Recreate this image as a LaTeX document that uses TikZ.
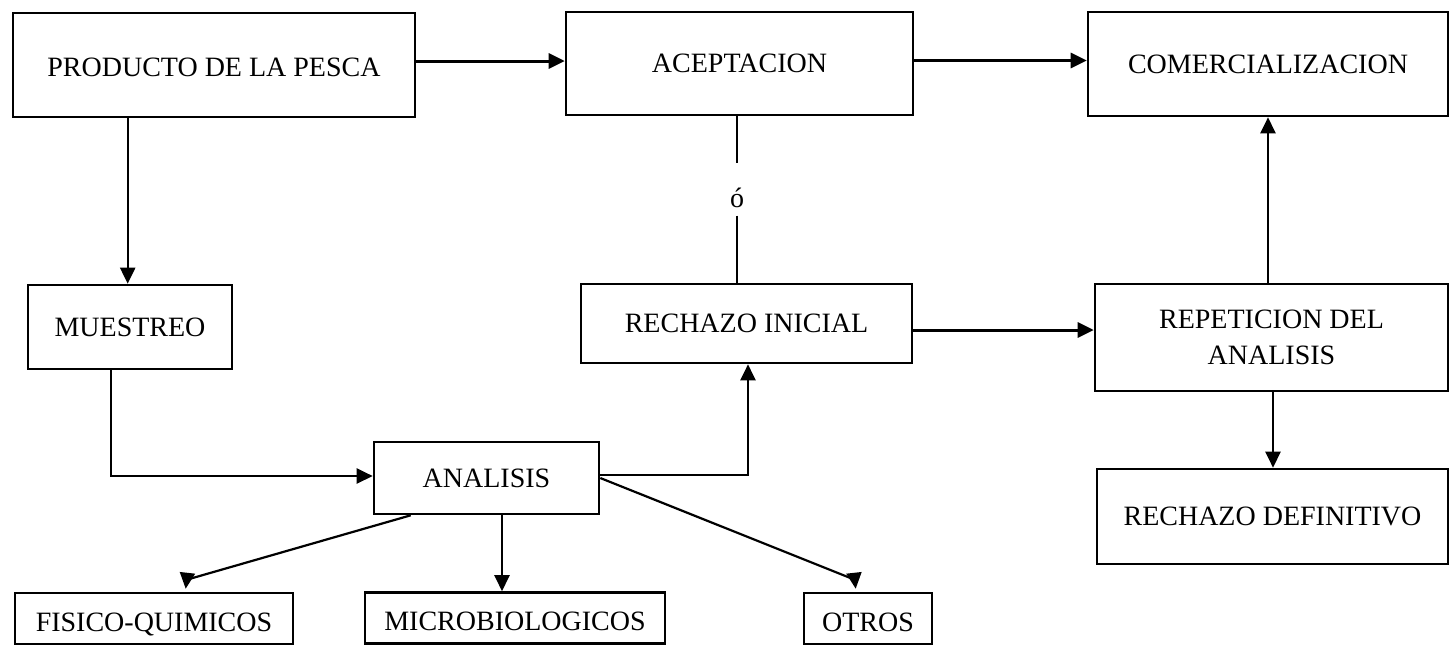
\documentclass[tikz,border=0pt]{standalone}
\usepackage{fontspec}
\setmainfont{Liberation Serif}
\usetikzlibrary{arrows.meta,calc}
\tikzset{
  box/.style={draw, line width=1.3pt, inner sep=0pt, align=center,
    font=\fontsize{14}{18}\selectfont},
  lowtext/.style={text height=15.5pt, text depth=3pt},
  conn/.style={line width=1.1pt},
  arr/.style={line width=1.1pt, -{Triangle[length=8pt,width=7.5pt]}},
  thickarr/.style={arr, line width=1.5pt},
}
\begin{document}
\begin{tikzpicture}[x=0.5pt,y=-0.5pt]
\useasboundingbox (0,0) rectangle (1455,645);
% nodes
\node[box, minimum width=201pt, minimum height=52pt, text height=14pt, text depth=3pt] (prod) at (214,65) {PRODUCTO DE LA PESCA};
\node[box, minimum width=173.5pt, minimum height=51.5pt] (acep) at (739.5,63.5) {ACEPTACION};
\node[box, minimum width=180pt, minimum height=52pt] (com) at (1268,64) {COMERCIALIZACION};
\node[box, minimum width=102pt, minimum height=42pt] (muest) at (130,327) {MUESTREO};
\node[box, minimum width=165.5pt, minimum height=39.5pt] (rechi) at (746.5,323.5) {RECHAZO INICIAL};
\node[box, minimum width=176.5pt, minimum height=53.5pt] (repet) at (1271.5,337.5) {REPETICION DEL\\ANALISIS};
\node[box, minimum width=112.5pt, minimum height=36pt] (anal) at (486.5,478) {ANALISIS};
\node[box, minimum width=175.5pt, minimum height=47.5pt] (rdef) at (1272.5,516.5) {RECHAZO DEFINITIVO};
\node[box, lowtext, minimum width=139pt, minimum height=25.5pt] (fis) at (154,618.5) {FISICO-QUIMICOS};
\node[box, lowtext, minimum width=150pt, minimum height=25.5pt] (micro) at (515,618) {MICROBIOLOGICOS};
\node[box, lowtext, minimum width=64pt, minimum height=25.5pt] (otros) at (868,618.5) {OTROS};
% connectors
\draw[arr] ($(prod.south west)+(116,0)$) coordinate (p1) -- (p1 |- muest.north);
\draw[thickarr] ($(prod.east)+(0,-4)$) coordinate (p2) -- (p2 -| acep.west);
\draw[thickarr] ($(acep.east)+(0,-3)$) coordinate (a1) -- (a1 -| com.west);
\coordinate (a2) at ($(acep.south)+(-2.5,0)$);
\coordinate (a3) at (a2 |- rechi.north);
\draw[conn] (a2) -- ($(a2)+(0,47)$);
\draw[conn] ($(a3)+(0,-67)$) -- (a3);
\node[font=\fontsize{14}{16}\selectfont] (oo) at ($(a2)+(0,82)$) {ó};
\draw[arr] ($(muest.south)+(-19,0)$) |- ($(anal.west)+(0,-2)$);
\draw[arr] ($(anal.east)+(0,-3)$) -| ($(rechi.south)+(1.5,0)$);
\draw[arr] (anal.east) -- ($(otros.north west)+(52,-12)$) -- ($(otros.north west)+(53,-3)$);
\draw[arr] ($(anal.south west)+(38,0)$) -- ($(fis.north west)+(173,-12)$) -- ($(fis.north west)+(172,-3)$);
\draw[arr] ($(anal.south)+(15.5,0)$) coordinate (m1) -- (m1 |- micro.north);
\draw[thickarr] ($(rechi.east)+(0,6.5)$) coordinate (r1) -- (r1 -| repet.west);
\draw[arr] ($(repet.north)+(-3.5,0)$) coordinate (r2) -- (r2 |- com.south);
\draw[arr] ($(repet.south)+(1.5,0)$) coordinate (r3) -- (r3 |- rdef.north);
\end{tikzpicture}
\end{document}
